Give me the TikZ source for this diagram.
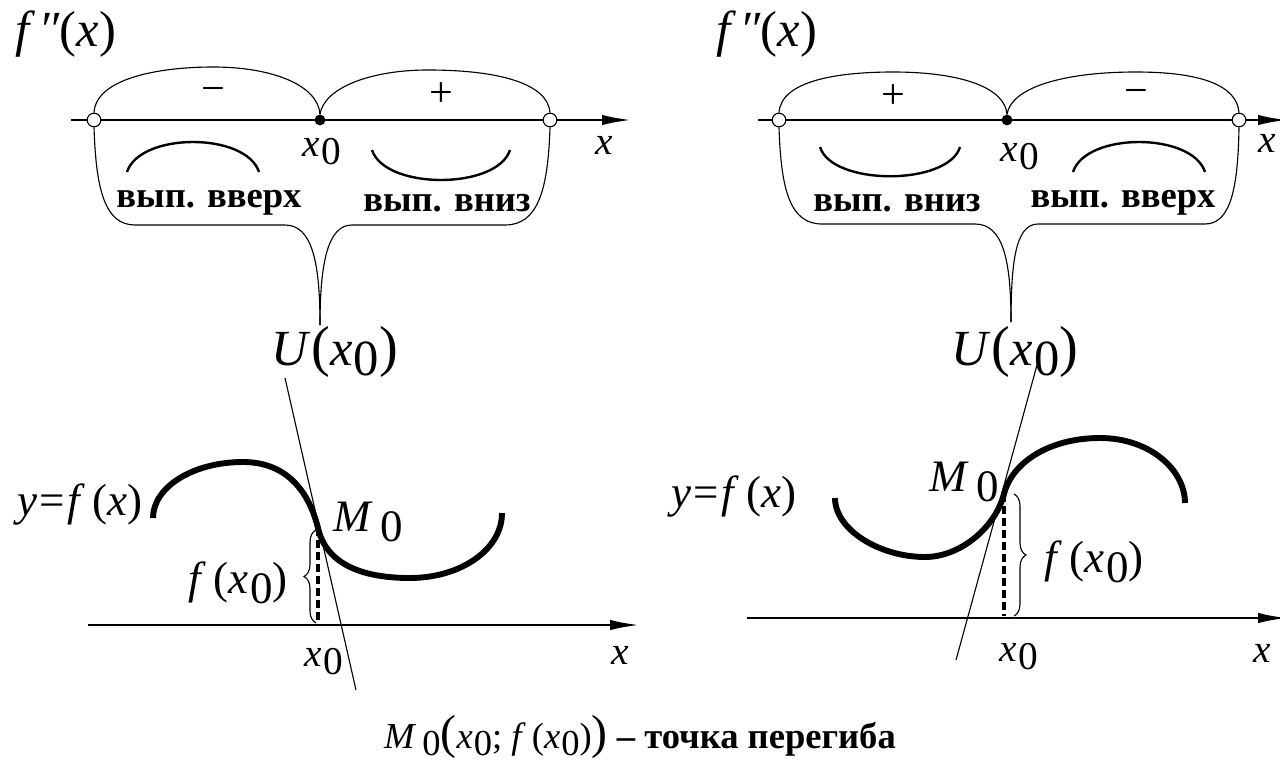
\documentclass[tikz,border=0pt]{standalone}
\usepackage{fontspec}
\setmainfont{Liberation Serif}
\usetikzlibrary{arrows.meta,calc,decorations.pathreplacing,positioning}
\newcommand{\vx}{\textit{x}}
\newcommand{\zr}{\raisebox{-0.45ex}{0}}
\newcommand{\xo}{\textit{x}\kern0.03em\zr}
\newcommand{\bigp}[1]{{\fontsize{40}{40}\selectfont(}#1{\fontsize{40}{40}\selectfont)}}

\begin{document}
\begin{tikzpicture}[x=0.025cm,y=-0.025cm,
  axis/.style={line width=2pt,-{Latex[length=0.75cm,width=0.26cm]}},
  opendot/.style={circle,draw,line width=0.8pt,fill=white,inner sep=0pt,minimum size=0.34cm},
  fulldot/.style={circle,fill,inner sep=0pt,minimum size=0.27cm},
  thinline/.style={line width=0.8pt},
  graph/.style={line width=4.2pt},
  bow/.style={line width=1.7pt},
  dashline/.style={line width=2.8pt,dash pattern=on 0.2cm off 0.1cm},
  bracket/.style={line width=0.8pt,decorate,decoration={brace,amplitude=0.3cm}},
  lbl/.style={inner sep=0pt,font=\fontsize{28}{32}\selectfont},
  mid/.style={inner sep=0pt,font=\fontsize{32}{36}\selectfont},
  big/.style={inner sep=0pt,font=\fontsize{36}{40}\selectfont},
  sign/.style={inner sep=0pt,font=\fontsize{30}{34}\selectfont},
  cyr/.style={inner sep=0pt,font=\fontsize{26}{30}\selectfont\bfseries}]
\useasboundingbox (0,0) rectangle (1280,763);

% left: sign of f''
\node[big] (fpp1) at (66,34) {\textit{f\,″}(\textit{x})};
\draw[axis] (71,120) -- (632,120);
\node[opendot] (a1) at (94,120) {};
\node[fulldot] (m1) at (320,120) {};
\node[opendot] (b1) at (550,120) {};
\draw[thinline] (a1.north) .. controls (96,78) and (160,67) .. (213,67) .. controls (272,67) and (318,85) .. (m1.north);
\draw[thinline] (m1.north) .. controls (324,88) and (370,70) .. (428,70) .. controls (500,70) and (548,84) .. (b1.north);
\node[sign] (s1) at (213,95) {−};
\node[sign] (s2) at (441,95) {+};
\node[lbl] (x01) at (322,152) {\xo};
\node[lbl] (xl1) at (604,145) {\vx};
\draw[bow] (127,172) .. controls (140,132) and (246,132) .. (259,172);
\draw[bow] (372,150) .. controls (385,190) and (497,190) .. (510,150);
\node[cyr] (t1) at (209,203) {вып. вверх};
\node[cyr] (t2) at (447,203) {вып. вниз};
\coordinate (tip1) at (320,325);
\draw[thinline] (a1.south) .. controls (96,190) and (105,225) .. (135,225) -- (285,225) .. controls (312,225) and (320,262) .. (tip1);
\draw[thinline] (b1.south) .. controls (548,190) and (538,225) .. (505,225) -- (352,225) .. controls (328,225) and (320,262) .. (tip1);
\node[big,anchor=north] (u1) at (335,326) {\textit{U}\bigp{\xo}};

% left: graph
\draw[axis] (88,625) -- (640,625);
\node[lbl] (xl2) at (620,655) {\vx};
\node[lbl] (x02) at (324,662) {\xo};
\coordinate (M1) at (318,528);
\draw[graph] (153,518) .. controls (153,487) and (193,462) .. (243,462) .. controls (284,462) and (308,488) .. (M1) .. controls (326,563) and (360,578) .. (410,578) .. controls (460,578) and (502,550) .. (502,513);
\draw[thinline] (285,378) -- (356,690);
\draw[dashline] (M1) -- (M1 |- 0,623);
\draw[bracket] (316,623) -- (316,530);
\node[mid] (fx1) at (238,583) {\textit{f}\,(\xo)};
\node[mid] (mo1) at (368,522) {\textit{M}\,\zr};
\node[mid] (yf1) at (80,505) {\textit{y}\kern0.05em=\kern0.05em\textit{f}\,(\textit{x})};

% right: sign of f''
\node[big] (fpp2) at (767,34) {\textit{f\,″}(\textit{x})};
\draw[axis] (758,120) -- (1288,120);
\node[opendot] (a2) at (779,120) {};
\node[fulldot] (m2) at (1007,120) {};
\node[opendot] (b2) at (1239,120) {};
\draw[thinline] (a2.north) .. controls (781,80) and (840,72) .. (893,72) .. controls (962,72) and (1005,88) .. (m2.north);
\draw[thinline] (m2.north) .. controls (1011,88) and (1062,72) .. (1136,72) .. controls (1200,72) and (1237,85) .. (b2.north);
\node[sign] (s3) at (893,97) {+};
\node[sign] (s4) at (1136,97) {−};
\node[lbl] (x03) at (1020,157) {\xo};
\node[lbl] (xl3) at (1267,143) {\vx};
\draw[bow] (820,147) .. controls (832,186) and (948,186) .. (960,147);
\draw[bow] (1073,172) .. controls (1086,132) and (1192,132) .. (1205,172);
\node[cyr] (t3) at (897,203) {вып. вниз};
\node[cyr] (t4) at (1123,203) {вып. вверх};
\coordinate (tip2) at (1011,322);
\draw[thinline] (a2.south) .. controls (781,190) and (790,224) .. (822,224) -- (975,224) .. controls (1003,224) and (1011,260) .. (tip2);
\draw[thinline] (b2.south) .. controls (1238,190) and (1230,224) .. (1205,224) -- (1038,224) .. controls (1016,224) and (1011,260) .. (tip2);
\node[big,anchor=north] (u2) at (1015,326) {\textit{U}\bigp{\xo}};

% right: graph
\draw[axis] (747,618) -- (1288,618);
\node[lbl] (xl4) at (1262,653) {\vx};
\node[lbl] (x04) at (1019,657) {\xo};
\coordinate (M2) at (1004,494);
\draw[graph] (835,498) .. controls (835,530) and (880,557) .. (925,557) .. controls (960,557) and (995,528) .. (M2) .. controls (1012,462) and (1050,438) .. (1100,438) .. controls (1150,438) and (1185,470) .. (1185,503);
\draw[thinline] (1037,365) -- (956,660);
\draw[dashline] (M2) -- (M2 |- 0,616);
\draw[bracket] (1014,494) -- (1014,616);
\node[mid] (fx2) at (1094,562) {\textit{f}\,(\xo)};
\node[mid] (mo2) at (964,482) {\textit{M}\,\zr};
\node[mid] (yf2) at (734,497) {\textit{y}\kern0.05em=\kern0.05em\textit{f}\,(\textit{x})};

\node[inner sep=0pt,anchor=base,font=\fontsize{26}{30}\selectfont] (note) at (640,748) {\textit{M}\,\zr{\fontsize{34}{34}\selectfont(}\xo; \textit{f}\,(\xo){\fontsize{34}{34}\selectfont)} {\bfseries – точка перегиба}};
\end{tikzpicture}
\end{document}
